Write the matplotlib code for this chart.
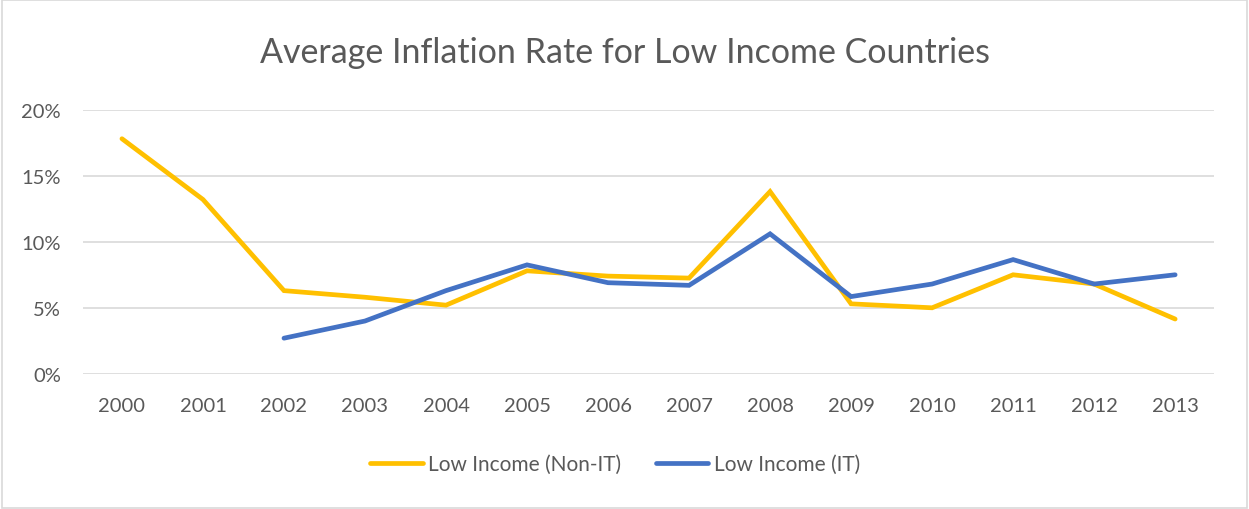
import numpy as np
import matplotlib
matplotlib.use("Agg")
import matplotlib.pyplot as plt
from matplotlib.patches import Rectangle

plt.rcParams['font.family'] = ['Lato', 'DejaVu Sans']

years = ['2000', '2001', '2002', '2003', '2004', '2005', '2006',
         '2007', '2008', '2009', '2010', '2011', '2012', '2013']
non_it = [17.8, 13.2, 6.3, 5.8, 5.2, 7.8, 7.4, 7.25, 13.8, 5.3, 5.0, 7.5, 6.8, 4.15]
it = [np.nan, np.nan, 2.7, 4.0, 6.3, 8.25, 6.9, 6.7, 10.6, 5.85, 6.8, 8.65, 6.8, 7.5]

grey = '#595959'

fig = plt.figure(figsize=(12.49, 5.10), dpi=100)
ax = fig.add_axes([0.0665, 0.265, 0.9055, 0.518])

x = np.arange(len(years))
ax.plot(x, non_it, color='#FFC000', lw=3.4, solid_capstyle='round',
        solid_joinstyle='miter', label='Low Income (Non-IT)', zorder=3)
ax.plot(x, it, color='#4472C4', lw=3.4, solid_capstyle='round',
        solid_joinstyle='miter', label='Low Income (IT)', zorder=3)

ax.set_xlim(-0.48, 13.48)
ax.set_ylim(0, 20)
ax.set_yticks([0, 5, 10, 15, 20])
ax.set_yticklabels(['0%', '5%', '10%', '15%', '20%'])
ax.set_xticks(x)
ax.set_xticklabels(years)
ax.grid(axis='y', color='#D9D9D9', lw=1.2)
ax.set_axisbelow(True)
for s in ax.spines.values():
    s.set_visible(False)
ax.tick_params(length=0, labelsize=14.5, colors=grey)
ax.tick_params(axis='x', pad=17)
ax.tick_params(axis='y', pad=16)

fig.text(0.5, 0.897, 'Average Inflation Rate for Low Income Countries',
         ha='center', va='center', fontsize=24.5, color=grey)

leg = fig.legend(loc='center', bbox_to_anchor=(0.4925, 0.088), ncol=2,
                 frameon=False, fontsize=15, handlelength=2.5,
                 handletextpad=0.25, columnspacing=1.7)
for t in leg.get_texts():
    t.set_color(grey)

fig.patches.append(Rectangle((0.002, 0.002), 0.996, 0.996, transform=fig.transFigure,
                             fill=False, edgecolor='#D9D9D9', lw=1.2))

fig.savefig('out.png', dpi=100)
